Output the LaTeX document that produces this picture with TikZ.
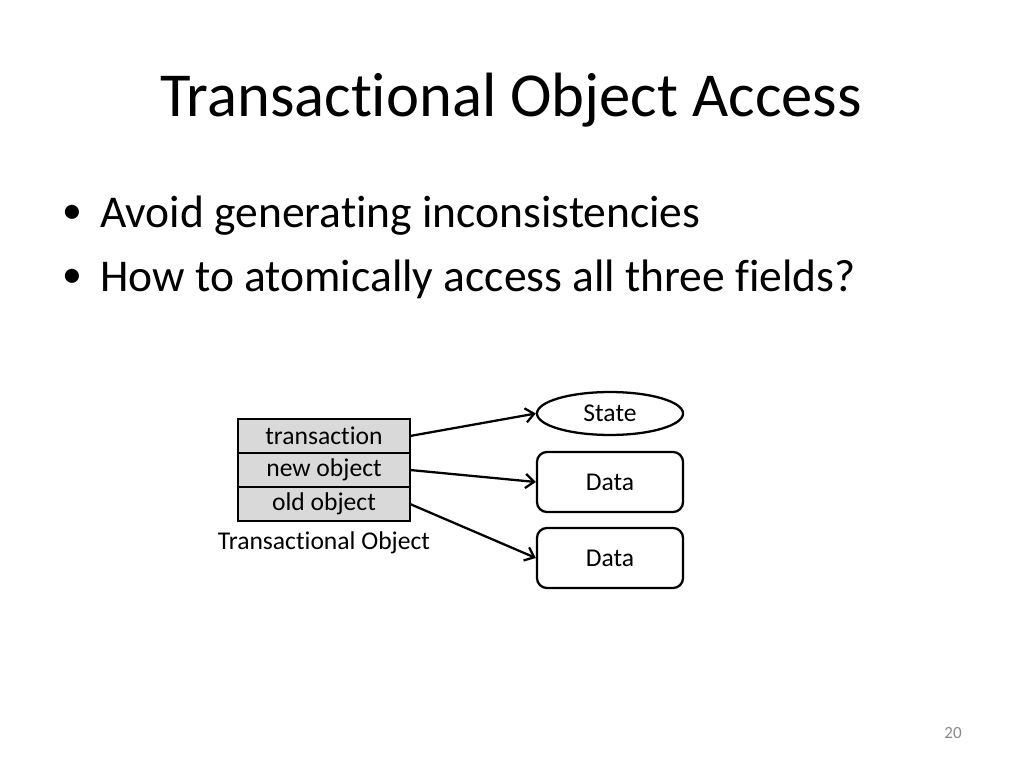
\documentclass[tikz,border=0pt]{standalone}
\usepackage{fontspec}
\setmainfont{Carlito}[Ligatures={NoCommon}]
\usetikzlibrary{positioning, shapes.geometric, arrows.meta}
\definecolor{fieldgray}{RGB}{217,217,217}
\definecolor{pagegray}{RGB}{137,137,137}
\tikzset{
  field/.style = {draw, line width=1.6pt, fill=fieldgray, minimum width=120.9pt, minimum height=23.9pt, inner sep=0pt, outer sep=0pt, font=\fontsize{18}{20}\selectfont},
  target/.style = {draw, line width=1.6pt, minimum width=102.7pt, inner sep=0pt, font=\fontsize{18}{20}\selectfont},
  link/.style = {-{Straight Barb[length=6pt, width=10pt]}, line width=1.6pt},
  bullet/.style = {anchor=base west, inner sep=0pt, font=\fontsize{32}{38}\selectfont},
  dot/.style = {anchor=base west, inner sep=0pt, font=\fontsize{28}{32}\selectfont}
}

\begin{document}
\begin{tikzpicture}[x=0.703125pt, y=-0.703125pt]
\useasboundingbox (0,0) rectangle (1024,768);

\node (title) [anchor=base, font=\fontsize{44}{50}\selectfont] at (511,117) {Transactional Object Access};

\node (b1) [bullet] at (100,228) {Avoid generating inconsistencies};
\node (b2) [bullet] at (100,292) {How to atomically access all three fields?};
\node (d1) [dot] at (62,224) {\textbullet};
\node (d2) [dot] at (62,288) {\textbullet};

% transactional object
\node (trans) [field] at (324,436) {transaction};
\node (newobj) [field, anchor=north] at (trans.south) {new object};
\node (oldobj) [field, anchor=north] at (newobj.south) {old object};
\node (tobj) [below=4pt of oldobj, font=\fontsize{18}{20}\selectfont] {Transactional Object};

% targets
\node (state) [target, ellipse, minimum height=30.2pt] at (610,413.5) {State};
\node (data1) [target, rounded corners=7pt, minimum height=42.2pt] at (610,482) {Data};
\node (data2) [target, rounded corners=7pt, minimum height=42.2pt] at (610,558) {Data};

\draw [link] (trans.east) -- (state.west);
\draw [link] (newobj.east) -- (data1.west);
\draw [link] (oldobj.east) -- (data2.west);

\node (page) [text=pagegray, font=\fontsize{12}{14}\selectfont] at (953,733) {20};
\end{tikzpicture}
\end{document}
